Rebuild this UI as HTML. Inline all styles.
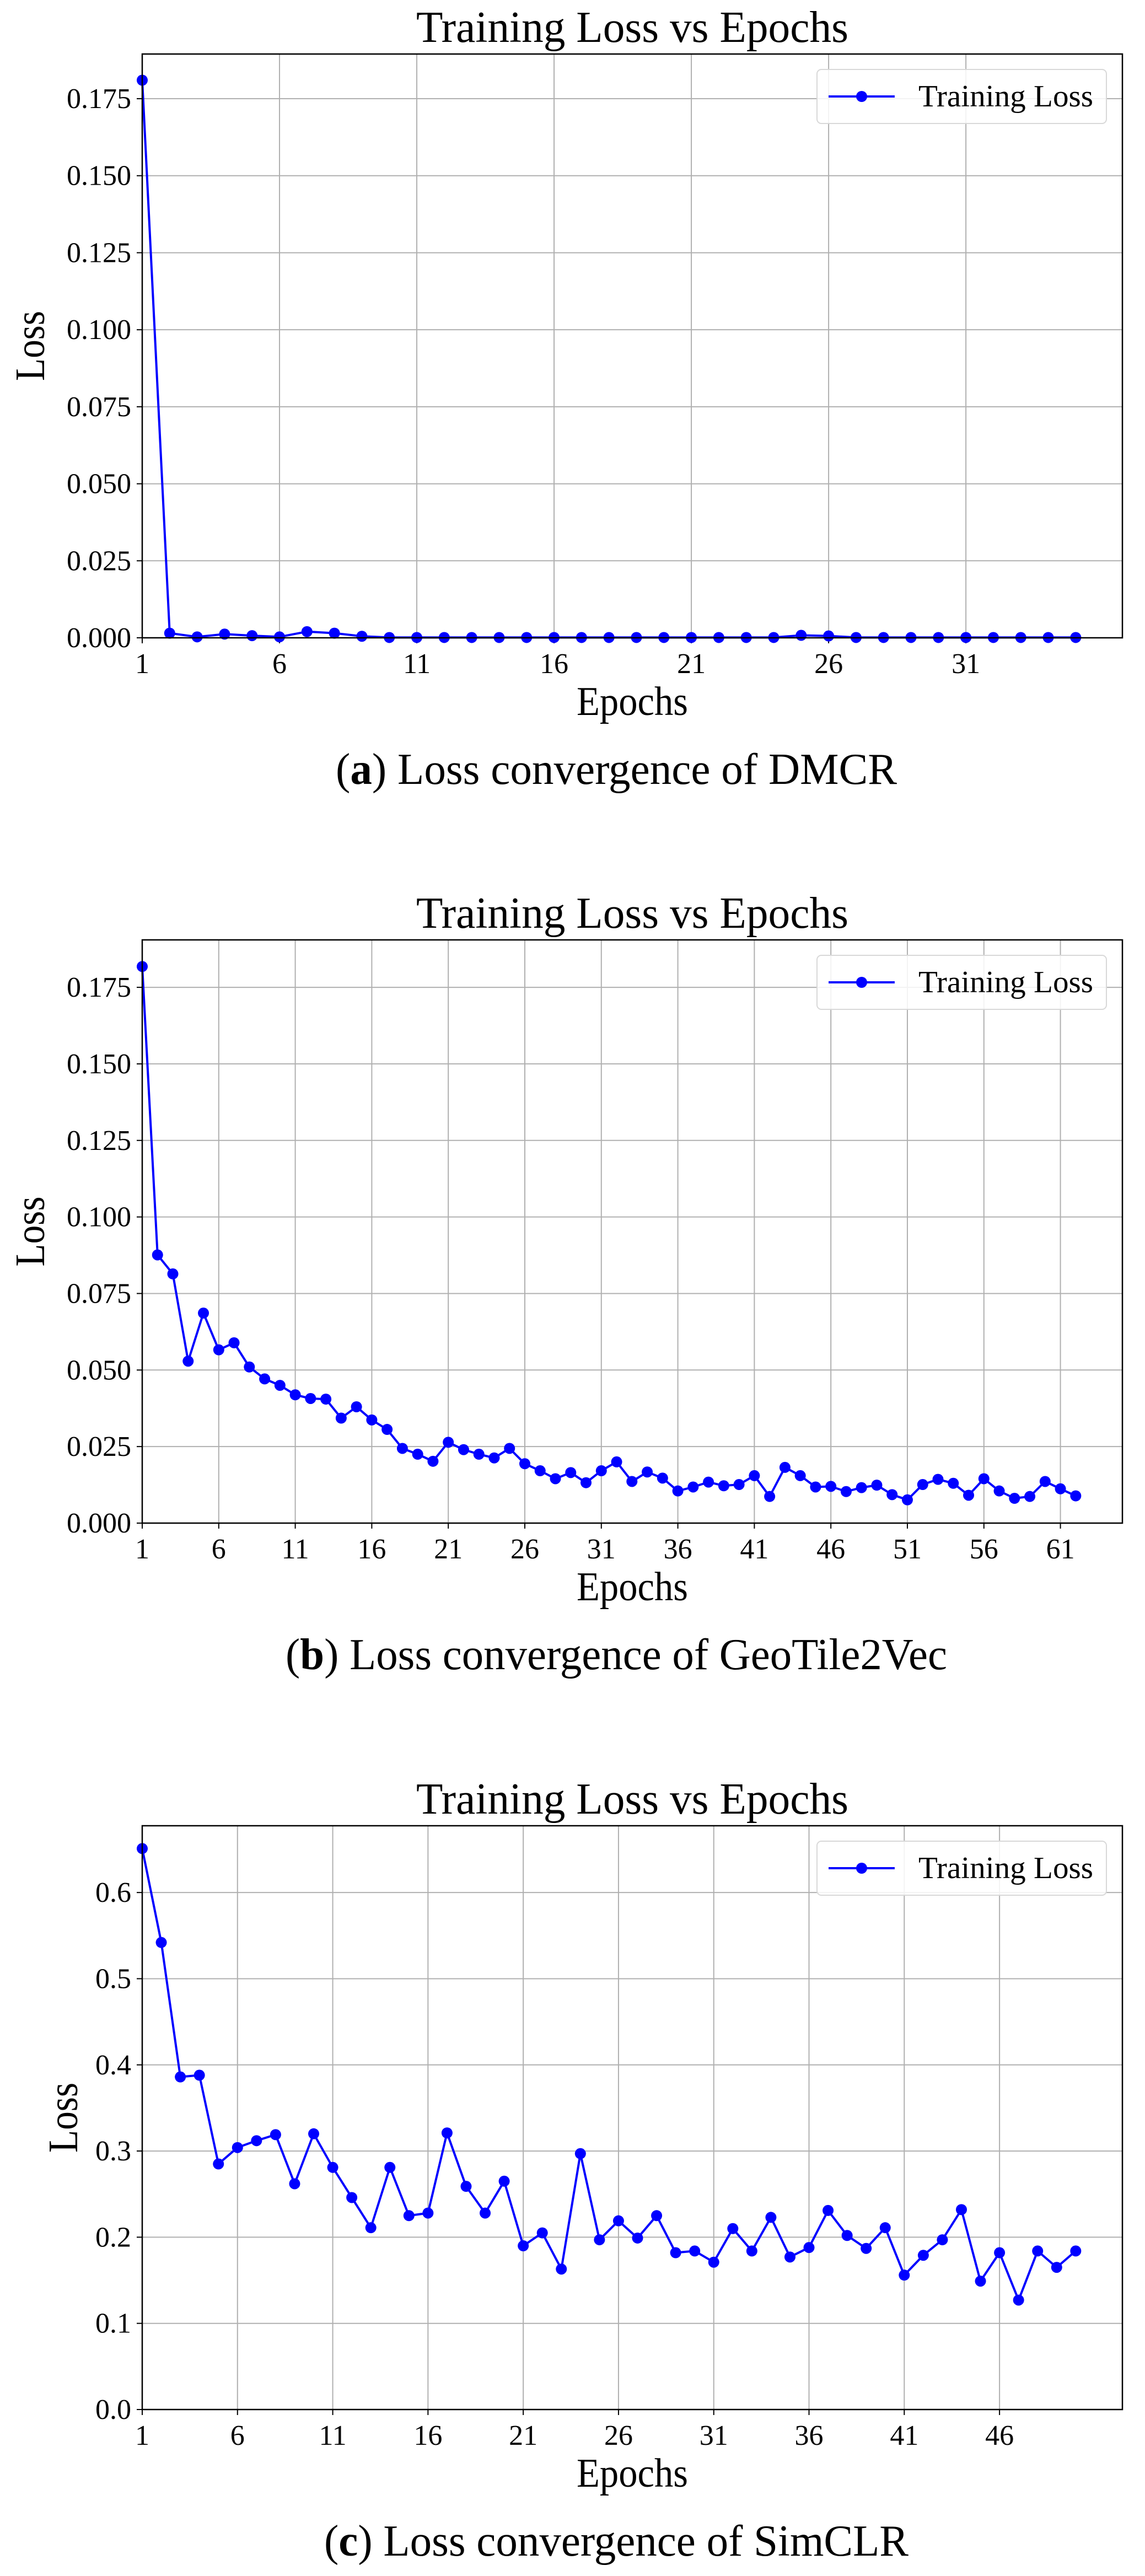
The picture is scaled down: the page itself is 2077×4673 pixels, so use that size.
<!DOCTYPE html>
<html><head><meta charset="utf-8"><style>
html,body{margin:0;padding:0;background:#fff;}
svg{display:block;}
text{font-family:"Liberation Serif",serif;fill:#000;}
</style></head><body>
<svg id="fig" width="2077" height="4673" viewBox="0 0 2077 4673" xmlns="http://www.w3.org/2000/svg"></svg>
<script>
// ---- data ----
const dmcrLoss = [0.181,0.0015,0.0003,0.0012,0.0007,0.0003,0.002,0.0015,0.0005,0.0001,0.0001,0.0001,0.0001,0.0001,0.0001,0.0001,0.0001,0.0001,0.0001,0.0001,0.0001,0.0001,0.0001,0.0001,0.0008,0.0006,0.0001,0.0001,0.0001,0.0001,0.0001,0.0001,0.0001,0.0001,0.0001];
const geoLoss = [0.1818,0.0876,0.0814,0.0529,0.0686,0.0566,0.0589,0.0510,0.0471,0.0450,0.0419,0.0407,0.0405,0.0343,0.0380,0.0337,0.0306,0.0244,0.0225,0.0202,0.0264,0.0240,0.0225,0.0213,0.0244,0.0194,0.0171,0.0145,0.0165,0.0132,0.0171,0.0200,0.0136,0.0167,0.0147,0.0105,0.0118,0.0134,0.0122,0.0126,0.0155,0.0087,0.0182,0.0155,0.0118,0.0120,0.0103,0.0116,0.0124,0.0093,0.0076,0.0126,0.0143,0.0130,0.0091,0.0145,0.0105,0.0081,0.0087,0.0136,0.0112,0.0089];
const simclrLoss = [0.651,0.542,0.386,0.388,0.285,0.304,0.312,0.319,0.262,0.320,0.281,0.246,0.211,0.281,0.225,0.228,0.321,0.259,0.228,0.265,0.190,0.205,0.163,0.297,0.197,0.219,0.199,0.225,0.182,0.184,0.171,0.210,0.184,0.223,0.177,0.188,0.231,0.202,0.187,0.211,0.156,0.179,0.197,0.232,0.149,0.182,0.127,0.184,0.165,0.184];
const yTicksAB = ["0.000","0.025","0.050","0.075","0.100","0.125","0.150","0.175"];
const yTicksC = ["0.0","0.1","0.2","0.3","0.4","0.5","0.6"];
const xTicksA = [1,6,11,16,21,26,31];
const xTicksB = [1,6,11,16,21,26,31,36,41,46,51,56,61];
const xTicksC = [1,6,11,16,21,26,31,36,41,46];
const captions = [["a"," Loss convergence of DMCR"],["b"," Loss convergence of GeoTile2Vec"],["c"," Loss convergence of SimCLR"]];

const NS="http://www.w3.org/2000/svg";
const svg=document.getElementById('fig');
function el(tag,attrs,parent,txt){const e=document.createElementNS(NS,tag);for(const k in attrs)e.setAttribute(k,attrs[k]);if(txt!==undefined)e.textContent=txt;(parent||svg).appendChild(e);return e;}

function panel(id,top,bottom,data,ymax,yTicks,xTicks,cap,capW){
  const L=258,R=2036;
  const xmax=data.length+(data.length-1)*0.05;
  const X=v=>L+(v-1)/(xmax-1)*(R-L);
  const Y=v=>bottom-v/ymax*(bottom-top);
  const g=el('g',{});
  
  
  // grid
  yTicks.forEach(t=>{const v=parseFloat(t);const y=Y(v);
    const gl=el('line',{x1:L,x2:R,y1:y,y2:y,stroke:'#b0b0b0','stroke-width':2},g);
    
    el('line',{x1:L-10,x2:L,y1:y,y2:y,stroke:'#000','stroke-width':2},g);
    const tl=el('text',{x:L-20,y:y+17,'text-anchor':'end','font-size':52},g,t);
    
  });
  xTicks.forEach(t=>{const x=X(t);
    const gl=el('line',{x1:x,x2:x,y1:top,y2:bottom,stroke:'#b0b0b0','stroke-width':2},g);
    
    el('line',{x1:x,x2:x,y1:bottom,y2:bottom+10,stroke:'#000','stroke-width':2},g);
    const tl=el('text',{x:x,y:bottom+64,'text-anchor':'middle','font-size':52},g,String(t));
    
  });
  // series
  const pts=data.map((v,i)=>X(i+1).toFixed(1)+','+Y(v).toFixed(1)).join(' ');
  const line=el('polyline',{points:pts,fill:'none',stroke:'#0000ff','stroke-width':4,'stroke-linejoin':'round'},g);
  
  data.forEach((v,i)=>{const c=el('circle',{cx:X(i+1),cy:Y(v),r:10,fill:'#0000ff'},g);
    });
  // frame
  const fr=el('rect',{x:L,y:top,width:R-L,height:bottom-top,fill:'none',stroke:'#000','stroke-width':2.5},g);
  
  // legend
  const lg=el('g',{},g);
  
  el('rect',{x:1482,y:top+28,width:525,height:98,rx:8,fill:'rgba(255,255,255,0.85)',stroke:'#d8d8d8','stroke-width':2},lg);
  el('line',{x1:1503,x2:1623,y1:top+77,y2:top+77,stroke:'#0000ff','stroke-width':4},lg);
  el('circle',{cx:1563,cy:top+77,r:10,fill:'#0000ff'},lg);
  const lt=el('text',{x:1666,y:top+95,'font-size':56,textLength:317,lengthAdjust:'spacingAndGlyphs'},lg,'Training Loss');
  
  // title
  const tt=el('text',{x:1147,y:top-22,'text-anchor':'middle','font-size':80,textLength:784,lengthAdjust:'spacingAndGlyphs'},g,'Training Loss vs Epochs');
  
  // axis labels
  const xl=el('text',{x:1147,y:bottom+140,'text-anchor':'middle','font-size':74,textLength:202,lengthAdjust:'spacingAndGlyphs'},g,'Epochs');
  
  const cy=(top+bottom)/2;
  const ylx = yTicks[0].length>3?80:140;
  const yl=el('text',{x:ylx,y:cy,'text-anchor':'middle','font-size':76,transform:`rotate(-90 ${ylx} ${cy})`,textLength:127,lengthAdjust:'spacingAndGlyphs'},g,'Loss');
  
  // caption
  const ct=el('text',{x:1118,y:bottom+265,'text-anchor':'middle','font-size':80,textLength:capW,lengthAdjust:'spacingAndGlyphs'},g);
  
  el('tspan',{},ct,'(');
  el('tspan',{'font-weight':'bold'},ct,cap[0]);
  el('tspan',{},ct,')'+cap[1]);
}
panel('dmcr',98,1157,dmcrLoss,0.1895,yTicksAB,xTicksA,captions[0],1018);
panel('geotile2vec',1705,2763,geoLoss,0.1905,yTicksAB,xTicksB,captions[1],1200);
panel('simclr',3312,4371,simclrLoss,0.6775,yTicksC,xTicksC,captions[2],1060);
</script>
</body></html>
